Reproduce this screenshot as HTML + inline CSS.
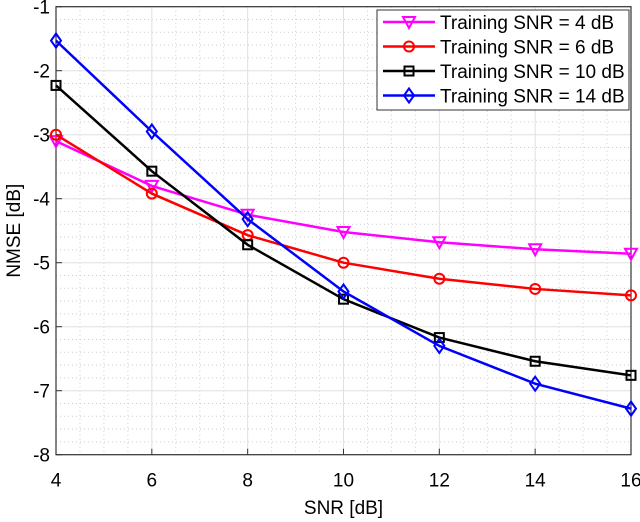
<!DOCTYPE html>
<html><head><meta charset="utf-8"><style>body{margin:0;background:#fff}svg{display:block;font-family:"Liberation Sans",sans-serif}</style></head>
<body>
<svg id="c" width="640" height="522"></svg>
<script>
const xCats=[4,6,8,10,12,14,16];
const s4=[-3.1,-3.8,-4.25,-4.52,-4.68,-4.79,-4.86];
const s6=[-3.0,-3.92,-4.57,-5.0,-5.25,-5.41,-5.51];
const s10=[-2.23,-3.57,-4.72,-5.57,-6.17,-6.54,-6.76];
const s14=[-1.53,-2.95,-4.32,-5.45,-6.3,-6.89,-7.28];
const xTicks=[4,6,8,10,12,14,16];
const yTicks=[-1,-2,-3,-4,-5,-6,-7,-8];
const legendLabels=["Training SNR = 4 dB","Training SNR = 6 dB","Training SNR = 10 dB","Training SNR = 14 dB"];
const L=56,R=631,T=6.7,B=454.7;
const X=v=>L+(v-4)/12*(R-L), Y=v=>T+(-1-v)/7*(B-T);
const svg=document.getElementById('c');const NS='http://www.w3.org/2000/svg';
function mk(t,a,p){const e=document.createElementNS(NS,t);for(const k in a)e.setAttribute(k,a[k]);(p||svg).appendChild(e);return e;}
let g;
for(let v=4;v<=16.001;v+=0.5){if(Math.abs(v-Math.round(v/2)*2)<1e-6)continue;
g=mk('line',{x1:X(v),x2:X(v),y1:T,y2:B,stroke:'#ccc','stroke-dasharray':'1,3','stroke-width':1});
}
for(let v=-8;v<=-1.001;v+=0.2){if(Math.abs(v-Math.round(v))<1e-6)continue;
g=mk('line',{x1:L,x2:R,y1:Y(v),y2:Y(v),stroke:'#ccc','stroke-dasharray':'1,3','stroke-width':1});
}
xTicks.forEach(v=>{g=mk('line',{x1:X(v),x2:X(v),y1:T,y2:B,stroke:'#e0e0e0'});
g=mk('line',{x1:X(v),x2:X(v),y1:B,y2:B-6,stroke:'#333'});
g=mk('text',{x:X(v),y:B+32,'text-anchor':'middle','font-size':19});g.textContent=v;});
yTicks.forEach(v=>{g=mk('line',{x1:L,x2:R,y1:Y(v),y2:Y(v),stroke:'#e0e0e0'});
g=mk('line',{x1:L,x2:L+6,y1:Y(v),y2:Y(v),stroke:'#333'});
g=mk('text',{x:L-6,y:Y(v)+7,'text-anchor':'end','font-size':19});g.textContent=v;});
g=mk('rect',{x:L,y:T,width:R-L,height:B-T,fill:'none',stroke:'#333','stroke-width':1.2});
g=mk('text',{x:(L+R)/2,y:514,'text-anchor':'middle','font-size':19});g.textContent='SNR [dB]';
g=mk('text',{x:20,y:(T+B)/2,'text-anchor':'middle','font-size':19,transform:`rotate(-90 20 ${(T+B)/2})`});g.textContent='NMSE [dB]';
function marker(type,x,y,col,p){const o={fill:'none',stroke:col,'stroke-width':2};let m;
if(type==='tri')m=mk('polygon',Object.assign({points:`${x-6},${y-5} ${x+6},${y-5} ${x},${y+6}`},o),p);
else if(type==='circ')m=mk('circle',Object.assign({cx:x,cy:y,r:5},o),p);
else if(type==='sq')m=mk('rect',Object.assign({x:x-4.5,y:y-4.5,width:9,height:9},o),p);
else m=mk('polygon',Object.assign({points:`${x},${y-7} ${x+5},${y} ${x},${y+7} ${x-5},${y}`},o),p);return m;}
const series=[[s4,'#ff00ff','tri','series-4db'],[s6,'#ff0000','circ','series-6db'],[s10,'#000000','sq','series-10db'],[s14,'#0000ff','dia','series-14db']];
series.forEach(([d,col,mt,nm])=>{g=mk('polyline',{points:d.map((v,i)=>X(xCats[i])+','+Y(v)).join(' '),fill:'none',stroke:col,'stroke-width':2.5});

d.forEach((v,i)=>{g=marker(mt,X(xCats[i]),Y(v),col);});});
g=mk('rect',{x:377,y:10,width:252,height:100,fill:'#fff',stroke:'#333'});
series.forEach(([d,col,mt,nm],i)=>{const y=22+i*24.5;
g=mk('line',{x1:383,x2:435,y1:y,y2:y,stroke:col,'stroke-width':2.5});
g=marker(mt,409,y,col);
g=mk('text',{x:440,y:y+7,'font-size':19});g.textContent=legendLabels[i];});
</script>
</body></html>
